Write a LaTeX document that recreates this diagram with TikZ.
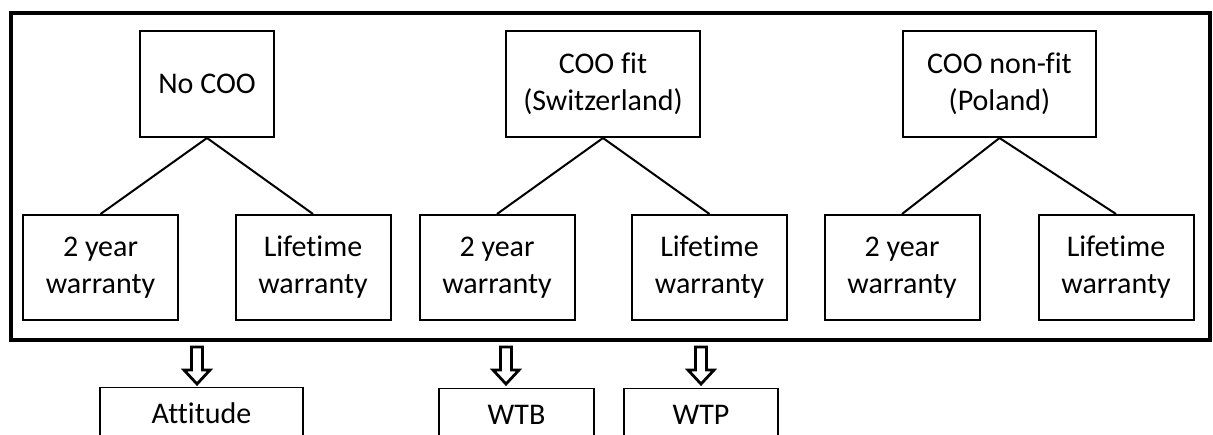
\documentclass[tikz,border=0pt]{standalone}
\usepackage{fontspec}
\setmainfont[Ligatures=NoCommon]{Carlito}
\begin{document}
\begin{tikzpicture}[x=0.5pt,y=-0.5pt,
  topbox/.style={draw,line width=1pt,inner sep=0pt,align=center,minimum height=53pt},
  warbox/.style={draw,line width=1pt,inner sep=0pt,align=center,minimum width=77.5pt,minimum height=52.5pt},
  outbox/.style={draw,line width=0.65pt,inner sep=0pt,anchor=north,text height=18pt,text depth=30pt},
  link/.style={line width=1pt},
  hollow/.style={line width=1.4pt,line join=miter,fill=white},
  frame/.style={line width=1.6pt}]
\clip (0,0) rectangle (1213,434);
\fill[white] (0,0) rectangle (1213,434);
\fontsize{15}{18.5}\selectfont
% frame
\draw[frame] (11,13) rectangle (1210,340);
% top nodes
\node[topbox,minimum width=67pt] (nocoo) at (207,84) {No COO};
\node[topbox,minimum width=97pt] (fit) at (603,84) {COO fit\\(Switzerland)};
\node[topbox,minimum width=96.5pt] (nonfit) at (999.5,84) {COO non-fit\\(Poland)};
% warranty nodes
\node[warbox] (n2) at (100.5,267.5) {2 year\\warranty};
\node[warbox] (nl) at (313,267.5) {Lifetime\\warranty};
\node[warbox] (f2) at (497,267.5) {2 year\\warranty};
\node[warbox] (fl) at (709.5,267.5) {Lifetime\\warranty};
\node[warbox] (p2) at (902,267.5) {2 year\\warranty};
\node[warbox] (pl) at (1116,267.5) {Lifetime\\warranty};
% connectors
\draw[link] (nocoo.south) -- (n2.north);
\draw[link] (nocoo.south) -- (nl.north);
\draw[link] (fit.south) -- (f2.north);
\draw[link] (fit.south) -- (fl.north);
\draw[link] (nonfit.south) -- (p2.north);
\draw[link] (nonfit.south) -- (pl.north);
% outcome nodes
\node[outbox,minimum width=101.5pt] (att) at (201.5,387) {Attitude};
\node[outbox,minimum width=77.5pt] (wtb) at (516.5,388) {WTB};
\node[outbox,minimum width=77pt] (wtp) at (701,388) {WTP};
% hollow arrows
\coordinate (a1) at (197,347);
\coordinate (a2) at (506,347);
\coordinate (a3) at (701,347);
\foreach \a in {a1,a2,a3}{
  \draw[hollow] (\a) ++(-5.5,0) -- ++(0,23) -- ++(-7.5,0) -- ++(13,14) -- ++(13,-14) -- ++(-7.5,0) -- ++(0,-23) -- cycle;
}
\end{tikzpicture}
\end{document}
